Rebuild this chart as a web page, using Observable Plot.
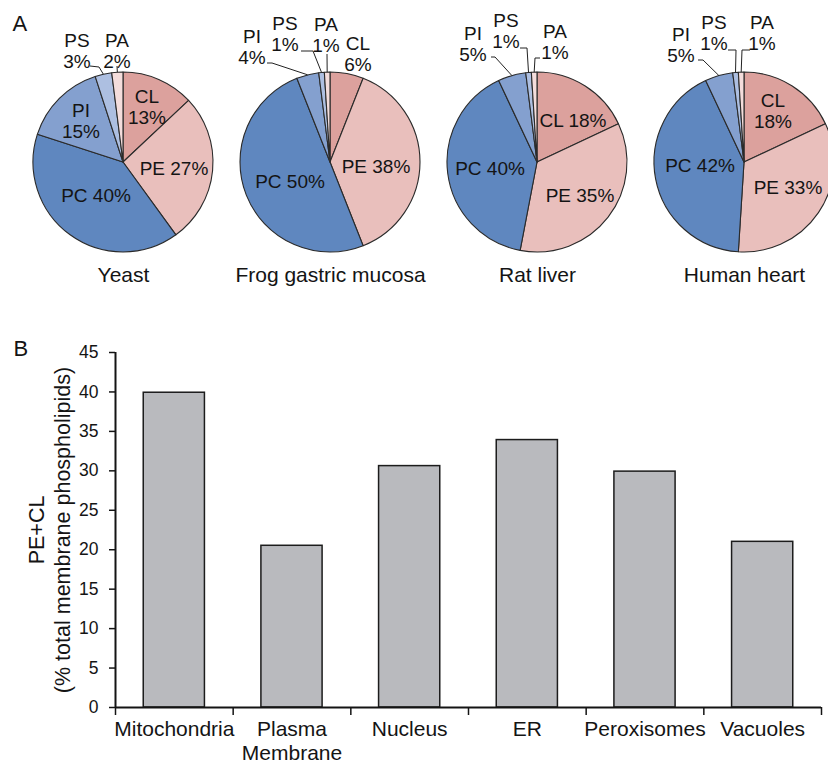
<!DOCTYPE html>
<html>
<head>
<meta charset="utf-8">
<script src="https://cdn.jsdelivr.net/npm/d3@7"></script>
<script src="https://cdn.jsdelivr.net/npm/@observablehq/plot@0.6"></script>
<style>
  html, body { margin: 0; padding: 0; background: #fff; overflow: hidden; }
  #chart svg { display: block; }
</style>
</head>
<body>
<div id="chart"></div>
<script>
// ---------- DATA ----------
const organisms = ["Yeast", "Frog gastric mucosa", "Rat liver", "Human heart"];
const lipids = ["CL", "PE", "PC", "PI", "PS", "PA"];
const yeastPct = [13, 27, 40, 15, 3, 2];
const frogPct  = [6, 38, 50, 4, 1, 1];
const ratPct   = [18, 35, 40, 5, 1, 1];
const humanPct = [18, 33, 42, 5, 1, 1];
const lipidColors = ["#dca19d", "#e9bfbc", "#5f87bf", "#84a0cf", "#adbfe1", "#f4dddc"];

const compartments = ["Mitochondria", "Plasma\nMembrane", "Nucleus", "ER", "Peroxisomes", "Vacuoles"];
const peClValues = [39.9, 20.5, 30.6, 33.9, 29.9, 21.0];
const yTicks = [0, 5, 10, 15, 20, 25, 30, 35, 40, 45];

// ---------- LAYOUT (label placement, not data) ----------
const PIE_R = 90, PIE_CY = 162, LABEL_FS = 19, LINE_GAP = 21;
// [dx, dy of first line centre, number of lines]
const pieLabelLayout = {
  "Yeast":               {CL: [24, -66, 2], PE: [51, 6, 1], PC: [-27, 33, 1], PI: [-42, -52, 2], PS: [-46, -122, 2], PA: [-6, -122, 2]},
  "Frog gastric mucosa": {CL: [28, -119, 2], PE: [46, 4, 1], PC: [-40, 19, 1], PI: [-78, -126, 2], PS: [-45, -139, 2], PA: [-4, -138, 2]},
  "Rat liver":           {CL: [36, -42, 1], PE: [43, 33, 1], PC: [-47, 6, 1], PI: [-64, -129, 2], PS: [-31, -142, 2], PA: [18, -131, 2]},
  "Human heart":         {CL: [29, -62, 2], PE: [44, 25, 1], PC: [-44, 3, 1], PI: [-63, -128, 2], PS: [-30, -140, 2], PA: [18, -140, 2]}
};
// leader line start / elbow points; the end is the slice's outer mid-point
const pieLeaderLayout = {
  "Yeast":               {PS: [[-33, -96], [-24, -95]], PA: [[-6, -96]]},
  "Frog gastric mucosa": {PI: [[-63, -99], [-58, -99]], PS: [[-29, -111], [-17, -111]], PA: [[-3, -108]]},
  "Rat liver":           {PI: [[-46, -105], [-42, -105]], PS: [[-17, -114], [-10, -114]], PA: [[3, -104], [-2, -104]]},
  "Human heart":         {PI: [[-46, -102], [-41, -102]], PS: [[-16, -112], [-8, -112]], PA: [[6, -112], [-2, -112]]}
};

const FONT = "'Liberation Sans', Arial, Helvetica, sans-serif";
const INK = "#141414";

// ---------- PIE ROWS ----------
const pieValues = [yeastPct, frogPct, ratPct, humanPct];
const pieRows = organisms.flatMap((org, k) => {
  const arcs = d3.pie().sort(null).value(d => d)(pieValues[k]);
  return lipids.map((lip, j) => ({organism: org, lipid: lip, value: pieValues[k][j], a0: arcs[j].startAngle, a1: arcs[j].endAngle}));
});

class PieMark extends Plot.Mark {
  constructor(data, options = {}) {
    super(data, {
      x: {value: options.x, scale: "x"},
      fill: {value: options.fill, scale: "color"},
      a0: {value: options.a0},
      a1: {value: options.a1}
    }, options, {});
    this.rows = data;
  }
  render(index, scales, values) {
    const {x: X, fill: F, a0: A0, a1: A1} = values;
    const g = d3.create("svg:g");
    const arc = d3.arc().innerRadius(0).outerRadius(PIE_R);
    const slices = g.append("g");
    const labels = g.append("g").attr("font-size", LABEL_FS).attr("fill", INK).attr("text-anchor", "middle");
    const leaders = g.append("g").attr("fill", "none").attr("stroke", "#222").attr("stroke-width", 1);
    for (const i of index) {
      const row = this.rows[i];
      const cx = X[i], cy = PIE_CY;
      slices.append("path")
        .attr("transform", `translate(${cx},${cy})`)
        .attr("d", arc({startAngle: A0[i], endAngle: A1[i]}))
        .attr("fill", F[i])
        .attr("stroke", "#2a2a2a")
        .attr("stroke-width", 1.1)
        .attr("stroke-linejoin", "round");
      const lay = pieLabelLayout[row.organism][row.lipid];
      const lines = lay[2] === 1 ? [`${row.lipid} ${row.value}%`] : [row.lipid, `${row.value}%`];
      lines.forEach((t, k) => {
        labels.append("text")
          .attr("x", cx + lay[0])
          .attr("y", cy + lay[1] + k * LINE_GAP + 0.36 * LABEL_FS)
          .text(t);
      });
      const lead = (pieLeaderLayout[row.organism] || {})[row.lipid];
      if (lead) {
        const mid = (A0[i] + A1[i]) / 2;
        const pts = lead.map(([a, b]) => [cx + a, cy + b]);
        pts.push([cx + PIE_R * Math.sin(mid), cy - PIE_R * Math.cos(mid)]);
        leaders.append("path").attr("d", "M" + pts.map(p => p.join(",")).join("L"));
      }
    }
    return g.node();
  }
}

const piePlot = Plot.plot({
  width: 828,
  height: 300,
  marginTop: 0, marginRight: 0, marginBottom: 0, marginLeft: 0,
  style: {fontFamily: FONT, color: INK, background: "#fff", overflow: "hidden"},
  x: {type: "point", domain: organisms, range: [122, 744], padding: 0, axis: null},
  color: {type: "ordinal", domain: lipids, range: lipidColors},
  marks: [
    new PieMark(pieRows, {x: "organism", fill: "lipid", a0: "a0", a1: "a1"}),
    Plot.text(organisms, {x: d => d, frameAnchor: "bottom", dy: -19, lineAnchor: "bottom", fontSize: 21, fill: INK}),
    Plot.text(["A"], {frameAnchor: "top-left", dx: 12, dy: 30, lineAnchor: "bottom", textAnchor: "start", fontSize: 22, fill: INK})
  ]
});

// ---------- BAR CHART ----------
const BAR_PAD = 0.24;
const barRows = compartments.map((c, i) => ({i, name: c, value: peClValues[i]}));

const barPlot = Plot.plot({
  width: 828,
  height: 465,
  marginTop: 52, marginRight: 7, marginBottom: 58, marginLeft: 115,
  style: {fontFamily: FONT, color: INK, background: "#fff"},
  x: {type: "linear", domain: [0, compartments.length], axis: null},
  y: {domain: [0, 45], axis: null},
  marks: [
    Plot.rectY(barRows, {x1: d => d.i + BAR_PAD, x2: d => d.i + 1 - BAR_PAD, y1: 0, y2: "value", fill: "#b9babe", stroke: "#1c1c1c", strokeWidth: 1.5}),
    Plot.axisY({ticks: yTicks, tickSize: 6, tickPadding: 11, fontSize: 17.5, label: null, strokeWidth: 1.5}),
    Plot.axisX({ticks: d3.range(compartments.length + 1), tickSize: 8, tickFormat: () => "", label: null, strokeWidth: 1.5}),
    Plot.axisX({ticks: barRows.map(d => d.i + 0.5), tickSize: 0, tickPadding: 11, tickFormat: v => compartments[Math.floor(v)], fontSize: 21, lineHeight: 1.15, label: null}),
    Plot.ruleX([0], {stroke: INK, strokeWidth: 2}),
    Plot.ruleY([0], {stroke: INK, strokeWidth: 2}),
    Plot.text(["PE+CL\n(% total membrane phospholipids)"], {frameAnchor: "left", textAnchor: "middle", rotate: -90, dx: -67, fontSize: 21.5, lineHeight: 1.2, fill: INK}),
    Plot.text(["B"], {frameAnchor: "top-left", dx: -102, dy: 3, lineAnchor: "bottom", textAnchor: "start", fontSize: 22, fill: INK})
  ]
});

document.getElementById("chart").append(piePlot, barPlot);
</script>
</body>
</html>
